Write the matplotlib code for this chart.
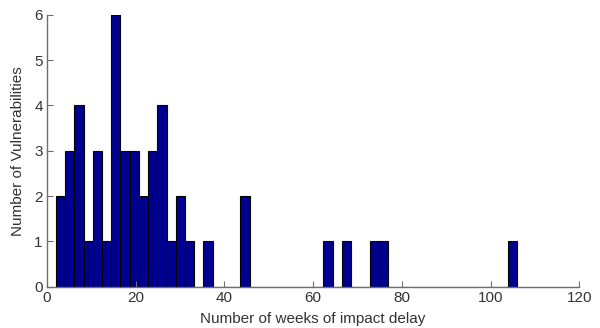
import numpy as np
import matplotlib.pyplot as plt

plt.rcParams['font.family'] = ['Liberation Sans', 'DejaVu Sans']

# histogram of impact delay (weeks): 50 bins between min and max delay
delay_min = 2.0
delay_max = 106.0
n_bins = 50
counts = [2, 3, 4, 1, 3, 1, 6, 3, 3, 2,
          3, 4, 1, 2, 1, 0, 1, 0, 0, 0,
          2, 0, 0, 0, 0, 0, 0, 0, 0, 1,
          0, 1, 0, 0, 1, 1, 0, 0, 0, 0,
          0, 0, 0, 0, 0, 0, 0, 0, 0, 1]

x_ticks = [0, 20, 40, 60, 80, 100, 120]
y_ticks = [0, 1, 2, 3, 4, 5, 6]

edges = np.linspace(delay_min, delay_max, n_bins + 1)
width = edges[1] - edges[0]

fig = plt.figure(figsize=(6.0, 3.28), dpi=100)
ax = fig.add_axes([47 / 600, 41.3 / 328, 532.3 / 600, 272 / 328])

ax.bar(edges[:-1], counts, width=width, align='edge',
       color='#000090', edgecolor='black', linewidth=0.8)

ax.set_xlim(0, 120)
ax.set_ylim(0, 6)
ax.set_xticks(x_ticks)
ax.set_yticks(y_ticks)

for side in ['top', 'right']:
    ax.spines[side].set_visible(False)
for side in ['left', 'bottom']:
    ax.spines[side].set_color('#6e6e6e')
    ax.spines[side].set_linewidth(1.0)

ax.tick_params(direction='in', length=4, color='#6e6e6e', labelsize=11,
               labelcolor='#333333', pad=3)

ax.set_xlabel('Number of weeks of impact delay', fontsize=11, color='#333333', labelpad=5)
ax.set_ylabel('Number of Vulnerabilities', fontsize=11, color='#333333', labelpad=7)

fig.savefig('out.png', dpi=100)
